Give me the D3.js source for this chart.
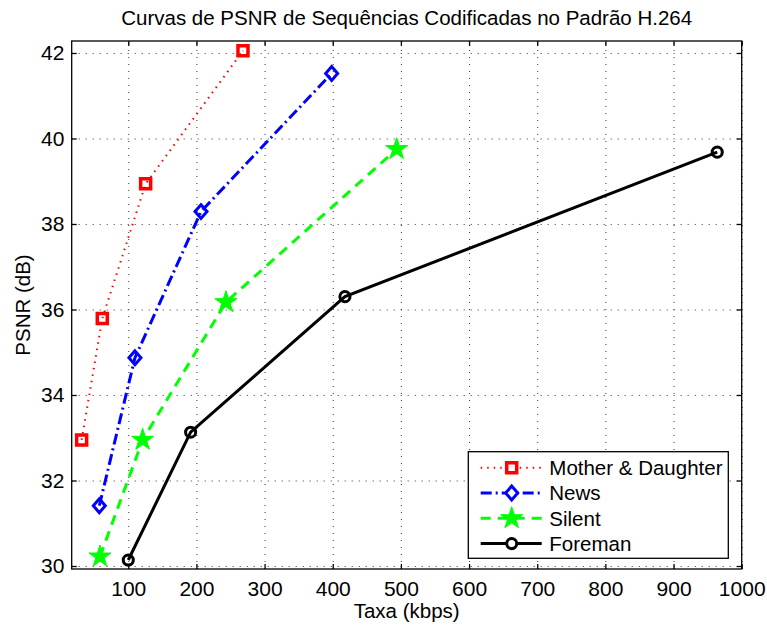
<!DOCTYPE html>
<html>
<head>
<meta charset="utf-8">
<script src="https://cdnjs.cloudflare.com/ajax/libs/d3/7.8.5/d3.min.js"></script>
<style>
  body { margin: 0; background: #fff; }
  text { font-family: "Liberation Sans", Arial, Helvetica, sans-serif; fill: #000; }
</style>
</head>
<body>
<div id="chart"></div>
<script>
// tick labels
const xTicks = [100, 200, 300, 400, 500, 600, 700, 800, 900, 1000];
const yTicks = [30, 32, 34, 36, 38, 40, 42];

// series (rate in kbps, PSNR in dB)
const seriesNames = ["Mother & Daughter", "News", "Silent", "Foreman"];
const motherRate = [31.6, 61.9, 125.5, 268.3];
const motherPsnr = [32.95, 35.79, 38.94, 42.05];
const newsRate = [57.5, 109.8, 206.7, 398.4];
const newsPsnr = [31.41, 34.87, 38.29, 41.52];
const silentRate = [58.5, 121.1, 243.3, 493.8];
const silentPsnr = [30.22, 32.95, 36.17, 39.75];
const foremanRate = [100, 191.5, 417.9, 964.1];
const foremanPsnr = [30.14, 33.13, 36.3, 39.68];

const W = 767, H = 628;
const margin = { top: 41, right: 25.3, bottom: 59, left: 71.7 },
  width = W - margin.left - margin.right,
  height = H - margin.top - margin.bottom;

const svg = d3
  .select("#chart")
  .append("svg")
  .attr("width", W)
  .attr("height", H);

const g = svg
  .append("g")
  .attr("transform", `translate(${margin.left},${margin.top})`);

const x = d3.scaleLinear().domain([17, 1000]).range([0, width]);
const y = d3.scaleLinear().domain([29.93, 42.28]).range([height, 0]);

// custom diamond (matlab style, a bit taller than wide)
const diamond = {
  draw(ctx, size) {
    const r = Math.sqrt(size) / 2;
    ctx.moveTo(0, -r * 1.15);
    ctx.lineTo(r, 0);
    ctx.lineTo(0, r * 1.15);
    ctx.lineTo(-r, 0);
    ctx.closePath();
  },
};

// style for every series
const styles = [
  { color: "#ff0000", dash: "1.5,5", lw: 2, symbol: d3.symbolSquare, size: 100, fill: "none", mlw: 3.5 },
  { color: "#0000ff", dash: "11,4,2,4", lw: 3, symbol: diamond, size: 144, fill: "none", mlw: 3 },
  { color: "#00ff00", dash: "10,7", lw: 3, symbol: d3.symbolStar, size: 150, fill: "#00ff00", mlw: 1 },
  { color: "#000000", dash: null, lw: 3, symbol: d3.symbolCircle, size: 80, fill: "none", mlw: 3 },
];

const series = [
  { name: seriesNames[0], rate: motherRate, psnr: motherPsnr },
  { name: seriesNames[1], rate: newsRate, psnr: newsPsnr },
  { name: seriesNames[2], rate: silentRate, psnr: silentPsnr },
  { name: seriesNames[3], rate: foremanRate, psnr: foremanPsnr },
].map((s, i) => ({ ...s, style: styles[i], points: s.rate.map((r, j) => [r, s.psnr[j]]) }));

// dotted grid
g.append("g")
  .attr("class", "grid")
  .attr("transform", `translate(0,${height})`)
  .call(d3.axisBottom(x).tickValues(xTicks).tickSize(-height).tickFormat(""))
  .call((a) => a.select(".domain").remove());
g.append("g")
  .attr("class", "grid")
  .call(d3.axisLeft(y).tickValues(yTicks).tickSize(-width).tickFormat(""))
  .call((a) => a.select(".domain").remove());
g.selectAll(".grid line")
  .attr("stroke", "#333")
  .attr("stroke-width", 1)
  .attr("stroke-dasharray", "1,6");

// lines
const line = d3
  .line()
  .x((d) => x(d[0]))
  .y((d) => y(d[1]));

g.selectAll(".series")
  .data(series)
  .join("path")
  .attr("class", "series")
  .attr("d", (d) => line(d.points))
  .attr("fill", "none")
  .attr("stroke", (d) => d.style.color)
  .attr("stroke-width", (d) => d.style.lw)
  .attr("stroke-dasharray", (d) => d.style.dash);

// markers
series.forEach((s) => {
  g.append("g")
    .selectAll("path")
    .data(s.points)
    .join("path")
    .attr("transform", (d) => `translate(${x(d[0])},${y(d[1])})`)
    .attr("d", d3.symbol(s.style.symbol, s.style.size))
    .attr("fill", s.style.fill)
    .attr("stroke", s.style.color)
    .attr("stroke-width", s.style.mlw)
    .attr("stroke-linejoin", "miter");
});

// frame and inward ticks
g.append("rect")
  .attr("width", width)
  .attr("height", height)
  .attr("fill", "none")
  .attr("stroke", "#000")
  .attr("stroke-width", 1.3);

const xAxis = g
  .append("g")
  .attr("transform", `translate(0,${height})`)
  .call(d3.axisBottom(x).tickValues(xTicks).tickSize(-5).tickPadding(12).tickFormat(d3.format("d")));
const yAxis = g
  .append("g")
  .call(d3.axisLeft(y).tickValues(yTicks).tickSize(-5).tickPadding(7.4).tickFormat(d3.format("d")));
g.append("g")
  .call(d3.axisTop(x).tickValues(xTicks).tickSize(-5).tickFormat(""));
g.append("g")
  .attr("transform", `translate(${width},0)`)
  .call(d3.axisRight(y).tickValues(yTicks).tickSize(-5).tickFormat(""));

g.selectAll(".domain").remove();
g.selectAll(".tick line").filter(function () {
  return this.parentNode.parentNode.getAttribute("class") !== "grid";
}).attr("stroke", "#000").attr("stroke-width", 1.3);

xAxis.selectAll("text").style("font-size", "21px").style("font-family", null);
yAxis.selectAll("text").style("font-size", "21px").style("font-family", null);
g.selectAll(".tick text").attr("fill", "#000");

// title
svg
  .append("text")
  .attr("x", margin.left + width / 2)
  .attr("y", 25)
  .attr("text-anchor", "middle")
  .style("font-size", "20.5px")
  .text("Curvas de PSNR de Sequências Codificadas no Padrão H.264");

// x label
svg
  .append("text")
  .attr("x", margin.left + width / 2)
  .attr("y", 618)
  .attr("text-anchor", "middle")
  .style("font-size", "20.5px")
  .text("Taxa (kbps)");

// y label
svg
  .append("text")
  .attr("transform", `translate(29.5,${margin.top + height / 2}) rotate(-90)`)
  .attr("text-anchor", "middle")
  .style("font-size", "20.5px")
  .text("PSNR (dB)");

// legend
const legend = svg.append("g").attr("transform", "translate(468.3,451.7)");
legend
  .append("rect")
  .attr("width", 260)
  .attr("height", 106.6)
  .attr("fill", "#fff")
  .attr("stroke", "#000")
  .attr("stroke-width", 1.3);

const rowY = (i) => 16 + i * 25.3;
const item = legend
  .selectAll(".item")
  .data(series)
  .join("g")
  .attr("class", "item")
  .attr("transform", (d, i) => `translate(0,${rowY(i)})`);

item
  .append("line")
  .attr("x1", 12.4)
  .attr("x2", 73.4)
  .attr("stroke", (d) => d.style.color)
  .attr("stroke-width", (d) => d.style.lw)
  .attr("stroke-dasharray", (d) => d.style.dash);

item
  .append("path")
  .attr("transform", "translate(43.4,0)")
  .attr("d", (d) => d3.symbol(d.style.symbol, d.style.size)())
  .attr("fill", (d) => (d.style.fill === "none" ? "#fff" : d.style.fill))
  .attr("stroke", (d) => d.style.color)
  .attr("stroke-width", (d) => d.style.mlw);

item
  .append("text")
  .attr("x", 81)
  .attr("dy", "0.36em")
  .style("font-size", "20.5px")
  .text((d) => d.name);
</script>
</body>
</html>
